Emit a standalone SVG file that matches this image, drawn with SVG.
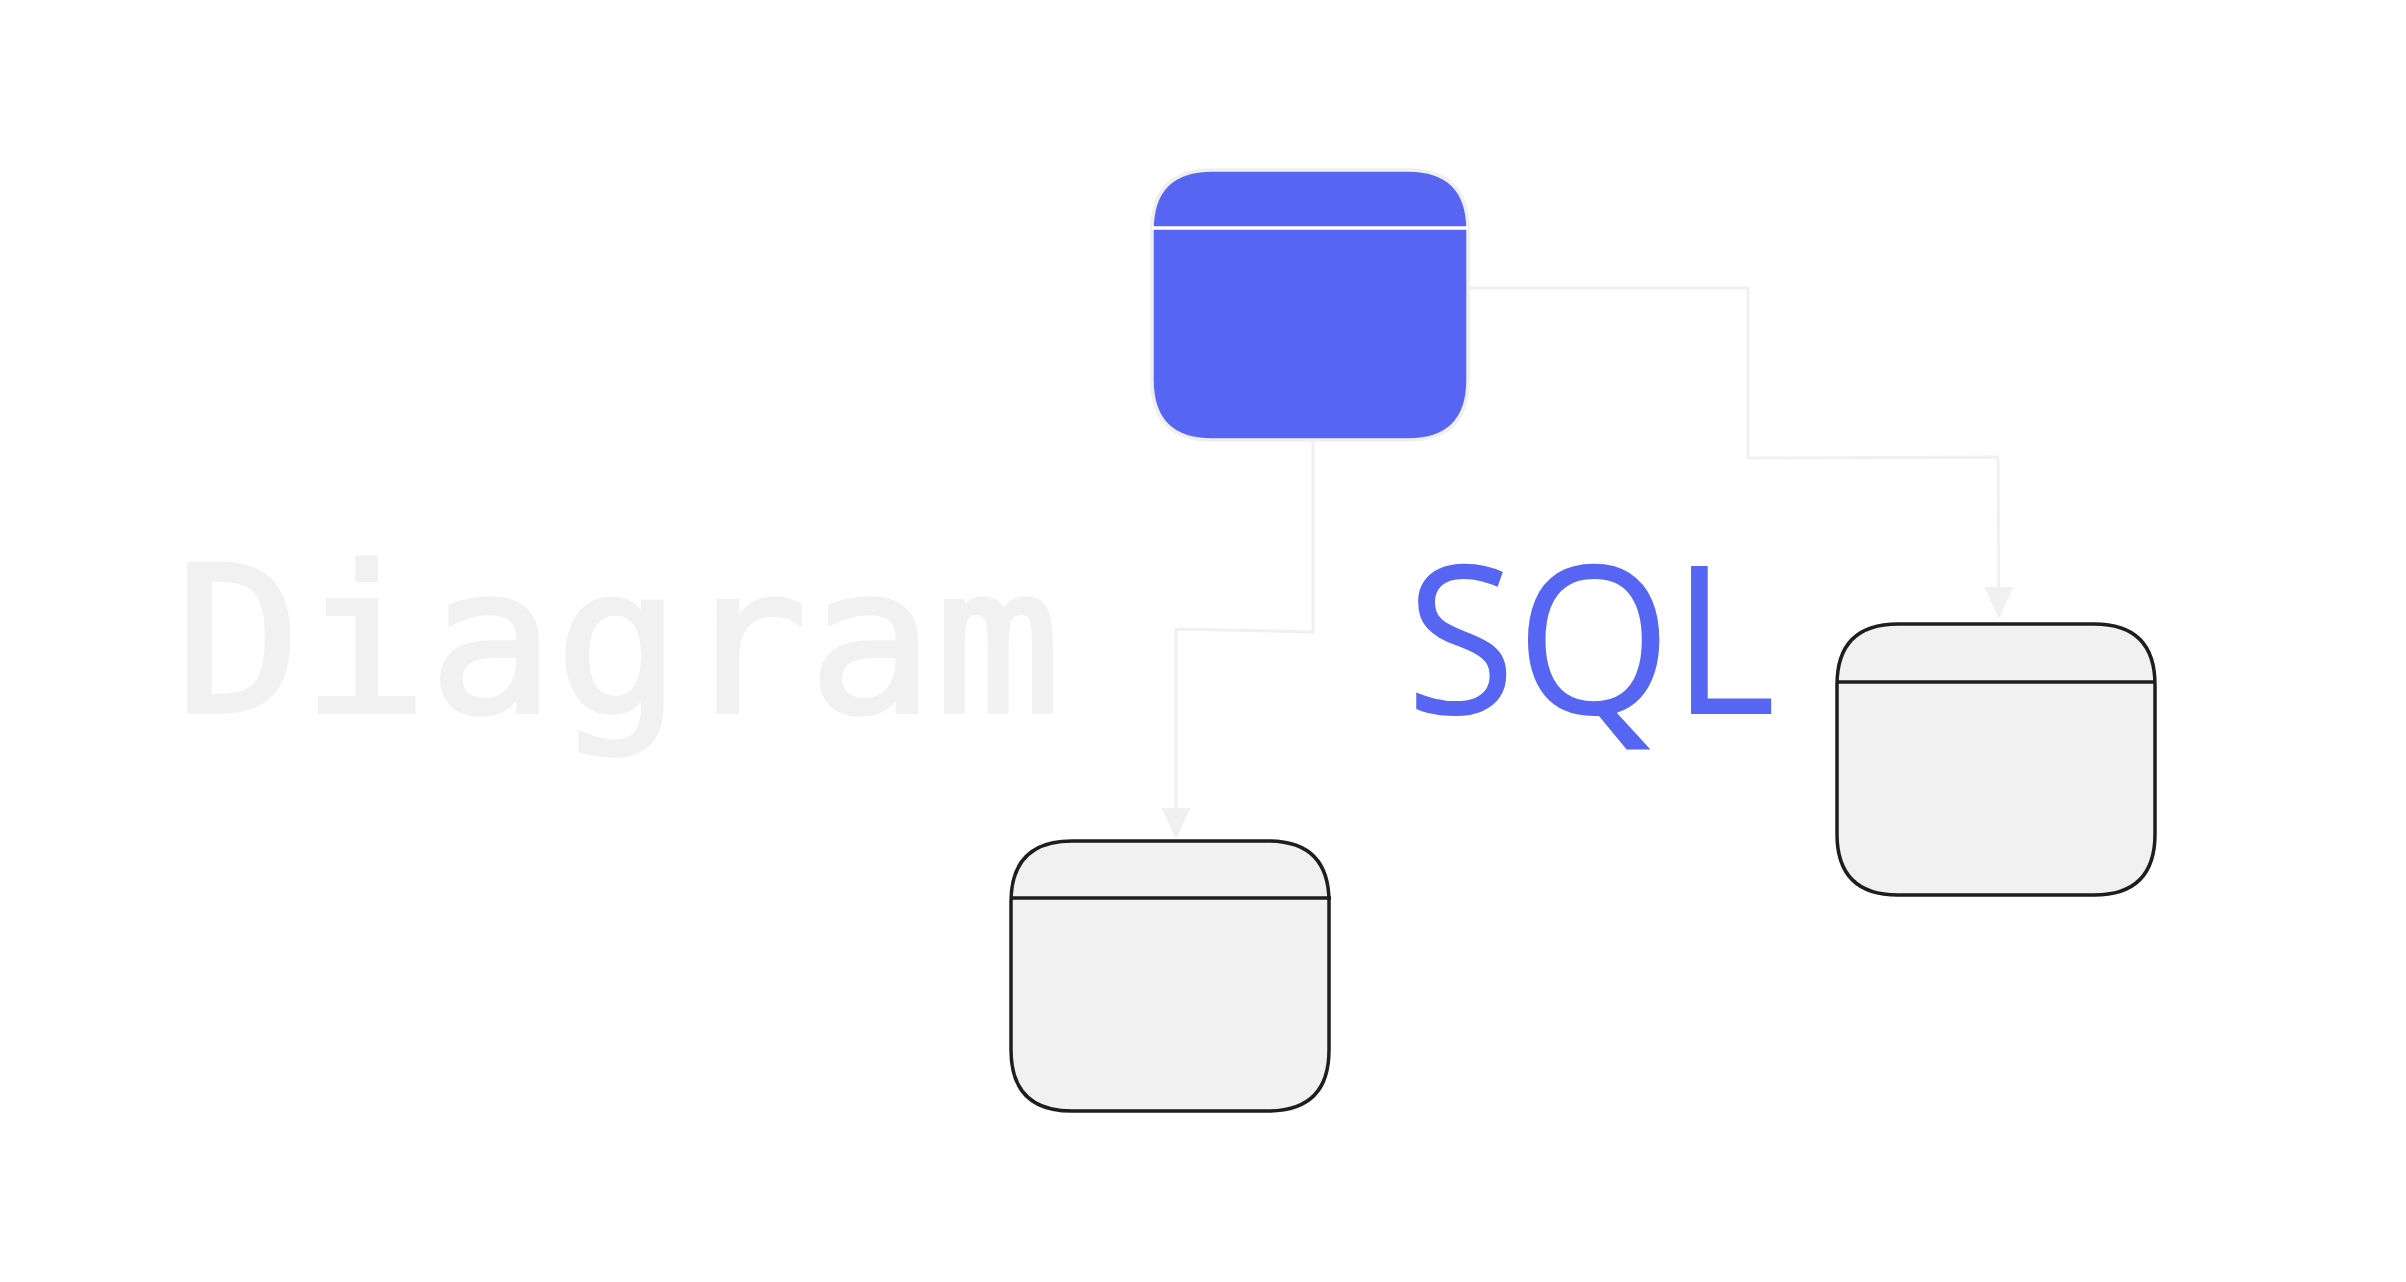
<svg xmlns="http://www.w3.org/2000/svg" width="2406" height="1282" viewBox="0 0 2406 1282">
<style>
.conn{fill:none;stroke:#f0f0f0;stroke-width:3;stroke-linejoin:round}
.tbl{fill:#f1f1f1;stroke:#1e1e1e;stroke-width:3.5}
.hdr{stroke:#1e1e1e;stroke-width:3.5}
.main{fill:#5766f2;stroke:#efefef;stroke-width:3.5}
.mainhdr{stroke:#ffffff;stroke-width:3.5}
</style>
<defs>
<marker id="arr" viewBox="0 0 30 28" refX="30" refY="14" markerWidth="30" markerHeight="28" markerUnits="userSpaceOnUse" orient="auto">
<path d="M0,0 L30,14 L0,28 Z" fill="#f0f0f0" stroke="#f0f0f0" stroke-width="1" stroke-linejoin="round"/>
</marker>
</defs>
<rect width="2406" height="1282" fill="#ffffff"/>
<text x="175" y="712" font-family="'DejaVu Sans Mono', monospace" font-size="204" fill="#f1f1f1" stroke="#f1f1f1" stroke-width="3.5" textLength="886" lengthAdjust="spacingAndGlyphs">Diagram</text>
<text x="1406" y="714" font-family="'Open Sans', 'Noto Sans', sans-serif" font-size="208" fill="#5766f2" textLength="370" lengthAdjust="spacingAndGlyphs">SQL</text>
<g id="connectors">
<path class="conn" d="M1313,440 L1313,632 L1176,629 L1176,838" marker-end="url(#arr)"/>
<path class="conn" d="M1470,288 L1748,288 L1748,458 L1998,457 L1999,617" marker-end="url(#arr)"/>
</g>
<g id="node-main">
<path class="main" d="M1212,170 L1408,170 Q1468,170 1468,230 L1468,380 Q1468,440 1408,440 L1212,440 Q1152,440 1152,380 L1152,230 Q1152,170 1212,170 Z"/>
<line class="mainhdr" x1="1152" y1="228" x2="1468" y2="228"/>
</g>
<g id="node-left">
<path class="tbl" d="M1072,841 L1268,841 Q1329,841 1329,902 L1329,1050 Q1329,1111 1268,1111 L1072,1111 Q1011,1111 1011,1050 L1011,902 Q1011,841 1072,841 Z"/>
<line class="hdr" x1="1011" y1="898" x2="1331" y2="898"/>
</g>
<g id="node-right">
<path class="tbl" d="M1898,624 L2094,624 Q2155,624 2155,685 L2155,834 Q2155,895 2094,895 L1898,895 Q1837,895 1837,834 L1837,685 Q1837,624 1898,624 Z"/>
<line class="hdr" x1="1837" y1="682" x2="2155" y2="682"/>
</g>
</svg>
